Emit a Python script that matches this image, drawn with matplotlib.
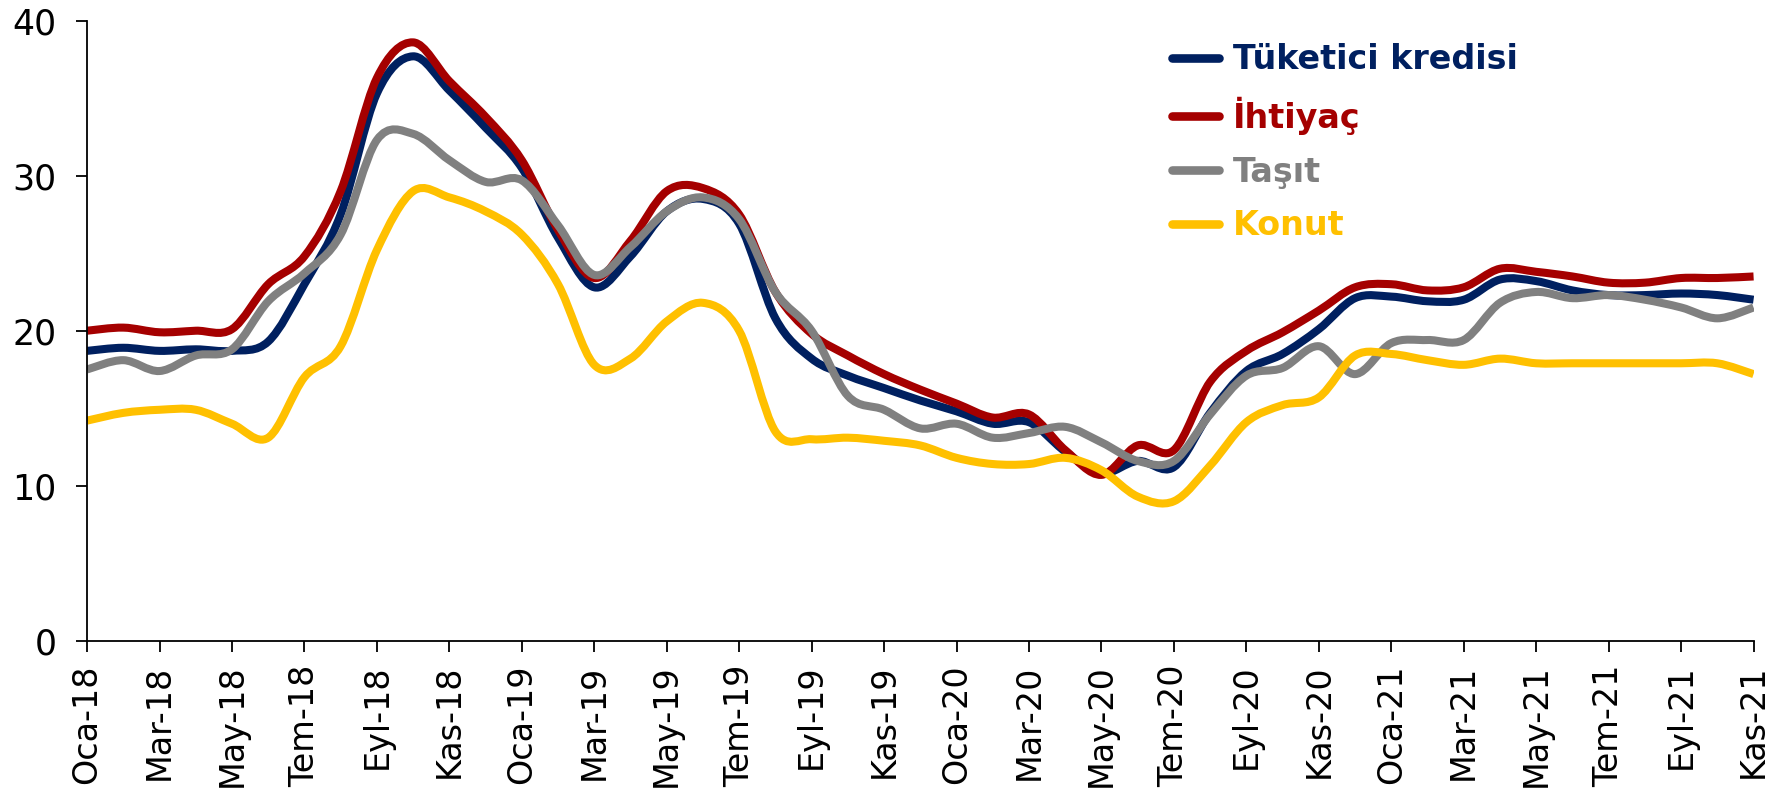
import numpy as np
import matplotlib
matplotlib.use("Agg")
import matplotlib.pyplot as plt
from matplotlib.path import Path
from matplotlib.patches import PathPatch
from matplotlib.lines import Line2D

# monthly data Oca-18 ... Kas-21 (47 months)
tuketici = [18.7, 18.9, 18.7, 18.8, 18.7, 19.3, 23.0, 27.5, 35.3, 37.7, 35.5, 33.1,
            30.5, 26.0, 22.8, 24.8, 27.7, 28.5, 26.9, 20.8, 18.2, 17.1, 16.3, 15.5,
            14.8, 14.0, 14.1, 12.2, 10.8, 11.6, 11.2, 14.7, 17.4, 18.5, 20.1, 22.1,
            22.2, 21.9, 22.0, 23.3, 23.2, 22.6, 22.3, 22.3, 22.4, 22.3, 22.0]
ihtiyac = [20.0, 20.2, 19.9, 20.0, 20.1, 23.0, 24.8, 29.0, 36.3, 38.6, 36.1, 33.8,
           31.0, 26.5, 23.4, 25.8, 29.0, 29.2, 27.5, 22.5, 19.8, 18.4, 17.2, 16.2,
           15.3, 14.4, 14.6, 12.3, 10.7, 12.6, 12.3, 16.7, 18.7, 19.9, 21.3, 22.8,
           23.0, 22.6, 22.8, 24.0, 23.8, 23.5, 23.1, 23.1, 23.4, 23.4, 23.5]
tasit = [17.5, 18.1, 17.4, 18.4, 18.8, 21.9, 23.7, 26.2, 32.3, 32.7, 31.0, 29.6,
         29.7, 26.8, 23.6, 25.4, 27.7, 28.6, 27.2, 22.5, 20.0, 15.8, 14.9, 13.7,
         14.0, 13.1, 13.4, 13.8, 12.8, 11.6, 11.6, 14.6, 17.1, 17.6, 19.0, 17.2,
         19.2, 19.4, 19.4, 21.8, 22.5, 22.1, 22.3, 22.0, 21.5, 20.8, 21.5]
konut = [14.2, 14.7, 14.9, 14.9, 14.0, 13.1, 17.0, 19.0, 25.2, 29.0, 28.6, 27.7,
         26.2, 23.0, 17.8, 18.2, 20.6, 21.8, 20.0, 13.5, 13.0, 13.1, 12.9, 12.6,
         11.8, 11.4, 11.4, 11.8, 11.0, 9.3, 9.0, 11.3, 14.1, 15.2, 15.7, 18.4,
         18.5, 18.1, 17.8, 18.2, 17.9, 17.9, 17.9, 17.9, 17.9, 17.9, 17.2]

tick_labels = ['Oca-18', 'Mar-18', 'May-18', 'Tem-18', 'Eyl-18', 'Kas-18',
               'Oca-19', 'Mar-19', 'May-19', 'Tem-19', 'Eyl-19', 'Kas-19',
               'Oca-20', 'Mar-20', 'May-20', 'Tem-20', 'Eyl-20', 'Kas-20',
               'Oca-21', 'Mar-21', 'May-21', 'Tem-21', 'Eyl-21', 'Kas-21']

names = ['Tüketici kredisi', 'İhtiyaç', 'Taşıt', 'Konut']
colors = ['#002060', '#A50000', '#808080', '#FFC000']

plt.rcParams['font.family'] = ['DejaVu Sans']


def smooth_path(y):
    # excel-like smoothed line: bezier segments through the data points
    x = np.arange(len(y), dtype=float)
    y = np.asarray(y, dtype=float)
    n = len(y)
    verts = [(x[0], y[0])]
    codes = [Path.MOVETO]
    for i in range(n - 1):
        i0 = max(i - 1, 0)
        i3 = min(i + 2, n - 1)
        c1 = (x[i] + (x[i + 1] - x[i0]) / 6, y[i] + (y[i + 1] - y[i0]) / 6)
        c2 = (x[i + 1] - (x[i3] - x[i]) / 6, y[i + 1] - (y[i3] - y[i]) / 6)
        verts += [c1, c2, (x[i + 1], y[i + 1])]
        codes += [Path.CURVE4, Path.CURVE4, Path.CURVE4]
    return Path(verts, codes)


fig = plt.figure(figsize=(17.91, 7.95), dpi=100)
ax = fig.add_axes([0.0486, 0.194, 0.9305, 0.780])

handles = []
for series, name, col in zip([tuketici, ihtiyac, tasit, konut], names, colors):
    patch = PathPatch(smooth_path(series), fill=False, edgecolor=col, lw=5.8,
                      capstyle='butt', joinstyle='round')
    ax.add_patch(patch)
    handles.append(Line2D([], [], color=col, lw=6.2, solid_capstyle='round'))

ax.set_xlim(0, len(tuketici) - 1)
ax.set_ylim(0, 40)
ax.set_yticks([0, 10, 20, 30, 40])
ax.set_xticks(np.arange(0, len(tuketici), 2))
ax.set_xticklabels(tick_labels, rotation=90)

for s in ['top', 'right']:
    ax.spines[s].set_visible(False)
ax.spines['left'].set_linewidth(1.3)
ax.spines['bottom'].set_linewidth(1.3)
ax.tick_params(axis='both', direction='out', length=8, width=1.3)
ax.tick_params(axis='y', pad=14, labelsize=25)
ax.tick_params(axis='x', pad=9, labelsize=24)

leg = ax.legend(handles, names, loc='upper left', bbox_to_anchor=(0.633, 1.012),
                frameon=False, handlelength=1.42, handletextpad=0.42,
                labelspacing=0.62, prop={'size': 24, 'weight': 'bold'})
for txt, col in zip(leg.get_texts(), colors):
    txt.set_color(col)

fig.savefig('out.png', dpi=100)
